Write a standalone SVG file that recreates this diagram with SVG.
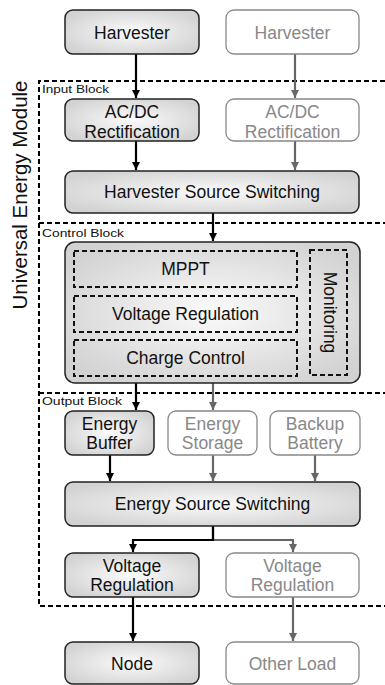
<svg xmlns="http://www.w3.org/2000/svg" width="385" height="685" viewBox="0 0 385 685">
<defs>
<radialGradient id="g" cx="50%" cy="50%" r="60%">
<stop offset="0" stop-color="#fbfbfb"/>
<stop offset="1" stop-color="#d2d2d2"/>
</radialGradient>
<marker id="ab" viewBox="0 0 10 10" refX="10" refY="5" markerWidth="8" markerHeight="8" markerUnits="userSpaceOnUse" orient="auto"><path d="M0,0L10,5L0,10z" fill="#000"/></marker>
<marker id="ag" viewBox="0 0 10 10" refX="10" refY="5" markerWidth="8" markerHeight="8" markerUnits="userSpaceOnUse" orient="auto"><path d="M0,0L10,5L0,10z" fill="#666"/></marker>
</defs>
<style>
text{font-family:"Liberation Sans",Arial,sans-serif;text-anchor:middle}
.t{font-size:17.5px;fill:#111}
.tg{font-size:17.5px;fill:#888}
.s{font-size:11.5px;fill:#111;text-anchor:start}
.f{fill:url(#g);stroke:#222;stroke-width:1.5}
.e{fill:#fff;stroke:#888;stroke-width:1.3}
.d{fill:none;stroke:#000;stroke-width:2;stroke-dasharray:5,3}
.ib{fill:none;stroke:#111;stroke-width:2;stroke-dasharray:5,3}
.cb{fill:none;stroke:#000;stroke-width:2.2}
.cg{fill:none;stroke:#666;stroke-width:2.2}
</style>
<g id="blocks">
<path class="d" d="M385,81H39V606H385"/>
<path class="d" d="M39,223H385M39,393H385"/>
<text class="s" x="42" y="93" textLength="67" lengthAdjust="spacingAndGlyphs">Input Block</text>
<text class="s" x="42" y="237" textLength="82" lengthAdjust="spacingAndGlyphs">Control Block</text>
<text class="s" x="42" y="405" textLength="80" lengthAdjust="spacingAndGlyphs">Output Block</text>
<text x="22" y="195" transform="rotate(-90 22 195)" style="font-size:20.5px;fill:#111" dominant-baseline="middle">Universal Energy Module</text>
</g>
<g id="connectors">
<path class="cb" d="M136,54V98" marker-end="url(#ab)"/>
<path class="cg" d="M295,54V98" marker-end="url(#ag)"/>
<path class="cb" d="M136,141V170" marker-end="url(#ab)"/>
<path class="cg" d="M295,141V170" marker-end="url(#ag)"/>
<path class="cb" d="M213,213V241" marker-end="url(#ab)"/>
<path class="cb" d="M213,287V296" marker-end="url(#ab)"/>
<path class="cb" d="M213,332V340" marker-end="url(#ab)"/>
<path class="cb" d="M136,383V410" marker-end="url(#ab)"/>
<path class="cg" d="M213,383V410" marker-end="url(#ag)"/>
<path class="cb" d="M110,455V481" marker-end="url(#ab)"/>
<path class="cg" d="M213,455V481" marker-end="url(#ag)"/>
<path class="cg" d="M315,455V481" marker-end="url(#ag)"/>
<path class="cg" d="M213,526V540H293V552" marker-end="url(#ag)"/>
<path class="cb" d="M213,526V540H133V552" marker-end="url(#ab)"/>
<path class="cb" d="M133,597V641" marker-end="url(#ab)"/>
<path class="cg" d="M293,597V641" marker-end="url(#ag)"/>
</g>
<g id="harvester1"><rect class="f" x="65" y="10" width="134" height="44" rx="8"/><text class="t" x="132" y="38.5">Harvester</text></g>
<g id="harvester2"><rect class="e" x="226" y="10" width="133" height="44" rx="8"/><text class="tg" x="292.5" y="38.5">Harvester</text></g>
<g id="acdc1"><rect class="f" x="65" y="99" width="134" height="42" rx="8"/><text class="t" x="132" y="118">AC/DC</text><text class="t" x="132" y="137.5">Rectification</text></g>
<g id="acdc2"><rect class="e" x="226" y="99" width="133" height="42" rx="8"/><text class="tg" x="292.5" y="118">AC/DC</text><text class="tg" x="292.5" y="137.5">Rectification</text></g>
<g id="hss"><rect class="f" x="65" y="171" width="294" height="42" rx="8"/><text class="t" x="212" y="198">Harvester Source Switching</text></g>
<g id="control"><rect class="f" x="65" y="242" width="295" height="141" rx="10"/></g>
<g id="mppt"><rect class="ib" x="74" y="251" width="223" height="36"/><text class="t" x="185.5" y="275">MPPT</text></g>
<g id="vreg"><rect class="ib" x="74" y="296" width="223" height="36"/><text class="t" x="185.5" y="320">Voltage Regulation</text></g>
<g id="charge"><rect class="ib" x="74" y="340" width="223" height="36"/><text class="t" x="185.5" y="364">Charge Control</text></g>
<g id="monitoring"><rect class="ib" x="310" y="250" width="37" height="125"/><text class="t" x="328.5" y="312.5" transform="rotate(90 328.5 312.5)" dominant-baseline="middle">Monitoring</text></g>
<g id="buffer"><rect class="f" x="65" y="411" width="89" height="44" rx="8"/><text class="t" x="109.5" y="430">Energy</text><text class="t" x="109.5" y="449">Buffer</text></g>
<g id="storage"><rect class="e" x="168" y="411" width="89" height="44" rx="8"/><text class="tg" x="212.5" y="430">Energy</text><text class="tg" x="212.5" y="449">Storage</text></g>
<g id="battery"><rect class="e" x="270" y="411" width="90" height="44" rx="8"/><text class="tg" x="315" y="430">Backup</text><text class="tg" x="315" y="449">Battery</text></g>
<g id="ess"><rect class="f" x="65" y="482" width="295" height="44" rx="8"/><text class="t" x="212.5" y="510">Energy Source Switching</text></g>
<g id="vreg1"><rect class="f" x="65" y="553" width="134" height="44" rx="8"/><text class="t" x="132" y="572">Voltage</text><text class="t" x="132" y="591">Regulation</text></g>
<g id="vreg2"><rect class="e" x="226" y="553" width="133" height="44" rx="8"/><text class="tg" x="292.5" y="572">Voltage</text><text class="tg" x="292.5" y="591">Regulation</text></g>
<g id="node"><rect class="f" x="65" y="642" width="134" height="42" rx="8"/><text class="t" x="132" y="670">Node</text></g>
<g id="other"><rect class="e" x="226" y="642" width="133" height="42" rx="8"/><text class="tg" x="292.5" y="670">Other Load</text></g>
</svg>
